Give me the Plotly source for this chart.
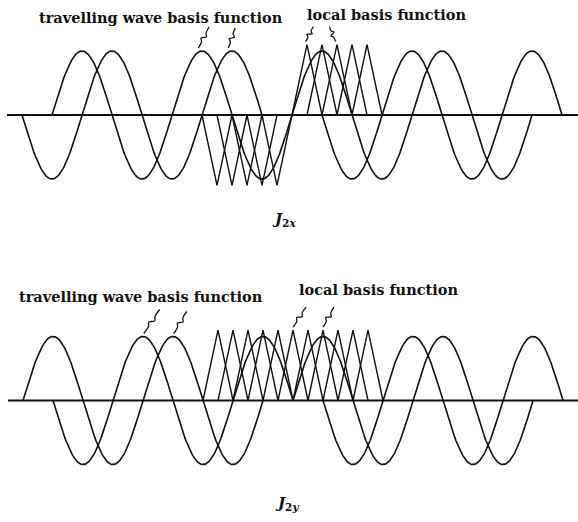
import numpy as np
import plotly.graph_objects as go

# Abscissa is measured in rooftop spacings; one wavelength spans 8 of them.
WAVELENGTH = 8.0
SINE_AMP = 1.0
ROOF_AMP = 1.1
ROOF_HALF = 1.0

# J2x: travelling-wave basis functions (start, end, sign) and rooftops
tw_x_start = [0, 2, 18, 20]
tw_x_end = [16, 18, 34, 36]
tw_x_sign = [-1, 1, 1, -1]
roof_x_centre = [13, 14, 15, 16, 17, 19, 20, 21, 22, 23]
roof_x_sign = [-1, -1, -1, -1, -1, 1, 1, 1, 1, 1]

# J2y: travelling-wave basis functions and rooftops
tw_y_start = [0, 2, 18, 20]
tw_y_end = [16, 18, 34, 36]
tw_y_sign = [1, -1, 1, -1]
roof_y_centre = [13, 14, 15, 16, 17, 18, 19, 20, 21, 22, 23]
roof_y_sign = [1, 1, 1, 1, 1, 1, 1, 1, 1, 1, 1]

# basis functions picked out by the labels (abscissa of the marked crest)
lead_x_tw = [12, 14]
lead_x_loc = [19, 21]
lead_y_tw = [8, 10]
lead_y_loc = [18, 20]

W, H = 578, 522
PX_U = 15.0      # pixels per unit along x
PX_A = 64.0      # pixels per unit amplitude
INK = "#111111"

fig = go.Figure()


def sine_piece(a, b, s):
    u = np.linspace(a, b, 241)
    return u, s * SINE_AMP * np.sin(2 * np.pi * (u - a) / WAVELENGTH)


def add_panel(xa, ya, starts, ends, signs, centres, rsigns):
    for a, b, s in zip(starts, ends, signs):
        u, v = sine_piece(a, b, s)
        fig.add_trace(go.Scatter(x=u, y=v, mode="lines", xaxis=xa, yaxis=ya,
                                 line=dict(color=INK, width=1.6),
                                 hoverinfo="skip", showlegend=False))
    for c, s in zip(centres, rsigns):
        fig.add_trace(go.Scatter(x=[c - ROOF_HALF, c, c + ROOF_HALF],
                                 y=[0, s * ROOF_AMP, 0], mode="lines",
                                 xaxis=xa, yaxis=ya,
                                 line=dict(color=INK, width=1.4),
                                 hoverinfo="skip", showlegend=False))
    # the x axis of the sketch
    fig.add_trace(go.Scatter(x=[-1, 40], y=[0, 0], mode="lines", xaxis=xa, yaxis=ya,
                             line=dict(color=INK, width=1.8),
                             hoverinfo="skip", showlegend=False))


def crest(u, starts, ends, signs, centres, rsigns):
    best = 0.0
    for a, b, s in zip(starts, ends, signs):
        if a <= u <= b:
            best = max(best, s * SINE_AMP * np.sin(2 * np.pi * (u - a) / WAVELENGTH))
    for c, s in zip(centres, rsigns):
        if abs(u - c) <= ROOF_HALF:
            best = max(best, s * ROOF_AMP * (1 - abs(u - c) / ROOF_HALF))
    return best


def leader(xa, ya, u, v, dx, dy):
    # wavy pointer drawn upward from just above the crest (dx, dy in pixels)
    t = np.array([0.0, 0.3, 0.42, 0.5, 0.58, 0.7, 1.0])
    wig = np.array([0.0, 0.0, -1.0, 0.0, 1.0, 0.0, 0.0]) * 2.2
    L = np.hypot(dx, dy)
    nx, ny = -dy / L, dx / L
    px = t * dx + wig * nx
    py = -3 + t * dy + wig * ny
    fig.add_trace(go.Scatter(x=u + px / PX_U, y=v - py / PX_A, mode="lines",
                             xaxis=xa, yaxis=ya, line=dict(color=INK, width=1.3, shape="spline"),
                             hoverinfo="skip", showlegend=False))


add_panel("x", "y", tw_x_start, tw_x_end, tw_x_sign, roof_x_centre, roof_x_sign)
add_panel("x2", "y2", tw_y_start, tw_y_end, tw_y_sign, roof_y_centre, roof_y_sign)

px_x = (tw_x_start, tw_x_end, tw_x_sign, roof_x_centre, roof_x_sign)
px_y = (tw_y_start, tw_y_end, tw_y_sign, roof_y_centre, roof_y_sign)

for u, d in zip(lead_x_tw, [(11, -21), (7, -20)]):
    leader("x", "y", u - 0.25, crest(u, *px_x), *d)
for u, d in zip(lead_x_loc, [(8, -15), (-6, -15)]):
    leader("x", "y", u - 0.1, crest(u, *px_x), *d)
for u, d in zip(lead_y_tw, [(16, -24), (13, -22)]):
    leader("x2", "y2", u + 0.05, crest(u, *px_y), *d)
for u, d in zip(lead_y_loc, [(13, -20), (11, -20)]):
    leader("x2", "y2", u, crest(u, *px_y), *d)


def label(text, x, y, anchor="left", size=14.5):
    fig.add_annotation(text=text, x=x / W, y=1 - y / H, xref="paper", yref="paper",
                       xanchor=anchor, yanchor="middle", showarrow=False,
                       font=dict(family="DejaVu Serif", size=size, color=INK,
                                 weight="bold"))


label("travelling wave basis function", 37, 17)
label("local basis function", 305, 14)
label("travelling wave basis function", 17, 296)
label("local basis function", 297, 289)
label("<i>J</i><sub>2<i>x</i></sub>", 284, 219, anchor="center", size=15)
label("<i>J</i><sub>2<i>y</i></sub>", 287, 503, anchor="center", size=15)

hidden = dict(visible=False, showgrid=False, zeroline=False)
fig.update_layout(
    width=W, height=H, margin=dict(l=0, r=0, t=0, b=0),
    paper_bgcolor="white", plot_bgcolor="white",
    xaxis=dict(hidden, range=[-22 / PX_U, (W - 22) / PX_U], domain=[0, 1]),
    yaxis=dict(hidden, range=[-(261 - 115) / PX_A, 115 / PX_A], domain=[0.5, 1]),
    xaxis2=dict(hidden, range=[-23 / PX_U, (W - 23) / PX_U], domain=[0, 1], anchor="y2"),
    yaxis2=dict(hidden, range=[-(522 - 400.5) / PX_A, (400.5 - 261) / PX_A],
                domain=[0, 0.5], anchor="x2"),
)

fig.write_html("out.html")
